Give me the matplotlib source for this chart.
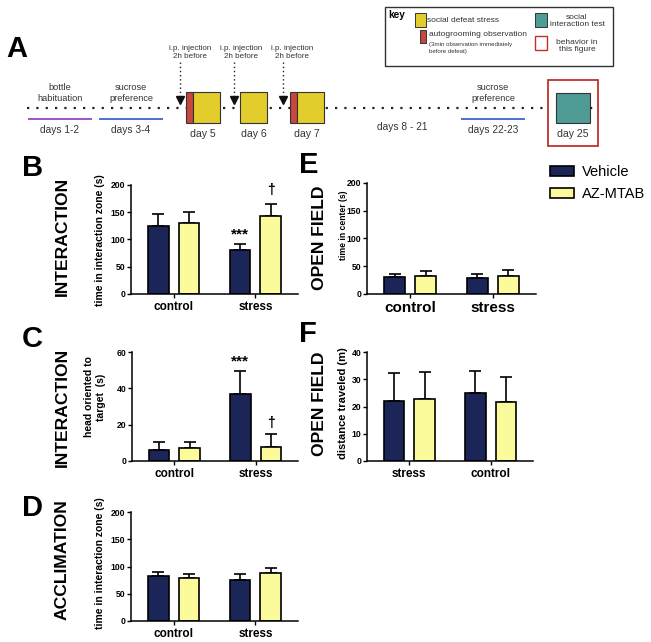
import numpy as np
import matplotlib
matplotlib.use("Agg")
import matplotlib.pyplot as plt
from matplotlib.patches import Rectangle, Patch

plt.rcParams['font.family'] = ['Liberation Sans', 'DejaVu Sans']

W, H = 651, 642
NAVY = "#1b2557"
PALE = "#fbfb9c"
DEFEAT = "#e3cd2c"
GROOM = "#c9463c"
TEAL = "#4f9b96"
RED = "#c0312b"
TXT = "#333333"

# ---- bar data ----
groups_B = ["control", "stress"]
veh_B, veh_B_err = [125, 81], [22, 11]
az_B, az_B_err = [131, 144], [19, 21]

groups_C = ["control", "stress"]
veh_C, veh_C_err = [6, 37], [4.2, 12.5]
az_C, az_C_err = [7, 7.7], [3.3, 7]

groups_D = ["control", "stress"]
veh_D, veh_D_err = [82, 75], [8, 12]
az_D, az_D_err = [79, 88], [8, 10]

groups_E = ["control", "stress"]
veh_E, veh_E_err = [30, 28], [5.5, 7.5]
az_E, az_E_err = [33, 33], [8.5, 10]

groups_F = ["stress", "control"]
veh_F, veh_F_err = [22.1, 24.8], [10.2, 8.1]
az_F, az_F_err = [22.7, 21.6], [10, 9.2]

# ---- timeline content ----
phase_text = ["bottle\nhabituation", "sucrose\npreference", "sucrose\npreference"]
phase_days = ["days 1-2", "days 3-4", "days 22-23"]
phase_color = ["#9b55c4", "#4d6fd8", "#4d6fd8"]
defeat_days = ["day 5", "day 6", "day 7"]
has_groom = [True, False, True]

fig = plt.figure(figsize=(W / 100, H / 100), dpi=100)


def px_axes(left, top, right, bottom):
    return fig.add_axes([left / W, 1 - bottom / H, (right - left) / W, (bottom - top) / H])


def ftext(x, y, s, **kw):
    fig.text(x / W, 1 - y / H, s, **kw)


# ================= panel A (schematic) =================
ax = px_axes(0, 0, W, 150)
ax.set_xlim(0, W)
ax.set_ylim(150, 0)
ax.axis("off")

ax.plot([27, 594], [108, 108], color="#222222", lw=1.6, ls=(0, (1, 3.2)), zorder=1)

phase_x = [60, 131, 493]
for cx, t, d, c in zip(phase_x, phase_text, phase_days, phase_color):
    ax.text(cx, 93, t, ha="center", va="center", fontsize=6.6, color=TXT, linespacing=1.25)
    ax.plot([cx - 31, cx + 31], [119, 119], color=c, lw=1.4)
    ax.text(cx, 130, d, ha="center", va="center", fontsize=7.3, color=TXT)

box_left = [186, 240, 290]
for bl, d, g in zip(box_left, defeat_days, has_groom):
    if g:
        ax.add_patch(Rectangle((bl, 92), 6.5, 31, fc=GROOM, ec="#333333", lw=0.8, zorder=3))
        ax.add_patch(Rectangle((bl + 6.5, 92), 27, 31, fc=DEFEAT, ec="#333333", lw=0.8, zorder=3))
        cx = bl + 17
    else:
        ax.add_patch(Rectangle((bl, 92), 27, 31, fc=DEFEAT, ec="#333333", lw=0.8, zorder=3))
        cx = bl + 13.5
    ax.text(cx, 134, d, ha="center", va="center", fontsize=7.6, color=TXT)

arrow_x = [180, 234, 282.5]
label_x = [190, 241, 292]
for axx, lx in zip(arrow_x, label_x):
    ax.plot([axx, axx], [62, 99], color="#222222", lw=1.0, ls=(0, (1, 2)))
    ax.plot([axx], [100], marker="v", ms=5.5, color="#111111", zorder=4)
    ax.text(lx, 52.5, "i.p. injection\n2h before", ha="center", va="center",
            fontsize=5.8, color=TXT, linespacing=1.2)

ax.text(402, 127, "days 8 - 21", ha="center", va="center", fontsize=7.3, color=TXT)

ax.add_patch(Rectangle((548, 80), 50, 66, fc="white", ec=RED, lw=1.3, zorder=2))
ax.add_patch(Rectangle((556, 93), 34, 30, fc=TEAL, ec="#333333", lw=0.8, zorder=3))
ax.plot([590, 594], [108, 108], color="#222222", lw=1.6, ls=(0, (1, 3.2)), zorder=4)
ax.text(573, 134, "day 25", ha="center", va="center", fontsize=7.6, color=TXT, zorder=4)

# key
ax.add_patch(Rectangle((385, 7), 228, 59, fc="white", ec="#333333", lw=1.0, zorder=2))
ax.text(388, 15, "key", ha="left", va="center", fontsize=7.2, fontweight="bold", zorder=3)
ax.add_patch(Rectangle((415, 13), 11, 14, fc=DEFEAT, ec="#333333", lw=0.7, zorder=3))
ax.text(427, 21, "social defeat stress", ha="left", va="center", fontsize=6, color=TXT, zorder=3)
ax.add_patch(Rectangle((420, 30), 6, 13, fc=GROOM, ec="#333333", lw=0.7, zorder=3))
ax.text(429, 35, "autogrooming observation", ha="left", va="center", fontsize=6, color=TXT, zorder=3)
ax.text(429, 48, "(3min observation immediately\nbefore defeat)", ha="left", va="center",
        fontsize=4.4, color=TXT, linespacing=1.3, zorder=3)
ax.add_patch(Rectangle((535, 13), 12, 14, fc=TEAL, ec="#333333", lw=0.7, zorder=3))
ax.text(577, 21, "social\ninteraction test", ha="center", va="center", fontsize=6,
        color=TXT, linespacing=1.15, zorder=3)
ax.add_patch(Rectangle((535, 36), 12, 14, fc="white", ec=RED, lw=1.0, zorder=3))
ax.text(577, 46, "behavior in\nthis figure", ha="center", va="center", fontsize=6,
        color=TXT, linespacing=1.15, zorder=3)


# ================= bar panels =================
def bar_panel(box, groups, veh, veh_err, az, az_err, ymax, ystep, cat_size):
    a = px_axes(*box)
    x = np.arange(len(groups))
    w, off = 0.255, 0.188
    for xs, vals, errs, col in [(x - off, veh, veh_err, NAVY), (x + off, az, az_err, PALE)]:
        a.bar(xs, vals, w, color=col, edgecolor="black", lw=1.2, zorder=2)
        a.errorbar(xs, vals, yerr=[np.zeros(len(vals)), errs], fmt="none", ecolor="black",
                   elinewidth=1.2, capsize=4, capthick=1.2, zorder=1)
    a.set_xlim(-0.52, 1.52)
    a.set_ylim(0, ymax)
    a.set_yticks(np.arange(0, ymax + 1, ystep))
    a.set_xticks(x)
    a.set_xticklabels(groups, fontsize=cat_size, fontweight="bold")
    for lab in a.get_yticklabels():
        lab.set_fontweight("bold")
    a.tick_params(axis="y", labelsize=6.2, length=3, width=1, pad=1)
    a.tick_params(axis="x", length=3, width=1, pad=2)
    for s in ["top", "right"]:
        a.spines[s].set_visible(False)
    for s in ["left", "bottom"]:
        a.spines[s].set_linewidth(1.1)
    a.patch.set_alpha(0)
    return a


axB = bar_panel((131, 185, 298, 294), groups_B, veh_B, veh_B_err, az_B, az_B_err, 200, 50, 8.5)
axB.text(1 - 0.188, 110, "***", ha="center", va="center", fontsize=11, fontweight="bold")
axB.text(1 + 0.188, 191, "\u2020", ha="center", va="center", fontsize=10, fontweight="bold")

axC = bar_panel((132, 352, 298, 461), groups_C, veh_C, veh_C_err, az_C, az_C_err, 60, 20, 8.5)
axC.text(1 - 0.188, 55, "***", ha="center", va="center", fontsize=11, fontweight="bold")
axC.text(1 + 0.188, 21, "\u2020", ha="center", va="center", fontsize=10, fontweight="bold")

axD = bar_panel((131, 512, 298, 621), groups_D, veh_D, veh_D_err, az_D, az_D_err, 200, 50, 8.5)
axE = bar_panel((367, 183, 536, 294), groups_E, veh_E, veh_E_err, az_E, az_E_err, 200, 50, 11)
axF = bar_panel((367, 352, 533, 461), groups_F, veh_F, veh_F_err, az_F, az_F_err, 40, 10, 8.5)

# y labels
ftext(100, 240, "time in interaction zone (s)", rotation=90, ha="center", va="center",
      fontsize=7.5, fontweight="bold")
ftext(95, 397, "head oriented to\ntarget  (s)", rotation=90, ha="center", va="center",
      fontsize=7.5, fontweight="bold", linespacing=1.35)
ftext(100, 563, "time in interaction zone (s)", rotation=90, ha="center", va="center",
      fontsize=7.5, fontweight="bold")
ftext(343, 225, "time in center (s)", rotation=90, ha="center", va="center",
      fontsize=6.2, fontweight="bold")
ftext(343, 403, "distance traveled (m)", rotation=90, ha="center", va="center",
      fontsize=8, fontweight="bold")

# section labels
for s, x, y in [("INTERACTION", 62, 236), ("OPEN FIELD", 320, 238), ("INTERACTION", 62, 407),
                ("OPEN FIELD", 320, 404), ("ACCLIMATION", 62, 560)]:
    ftext(x, y, s, rotation=90, ha="center", va="center", fontsize=12.6, fontweight="bold")

# panel letters
for s, x, y in [("A", 6, 57), ("B", 22, 176), ("C", 22, 347), ("D", 22, 516),
                ("E", 299, 173), ("F", 299, 342)]:
    ftext(x, y, s, ha="left", va="baseline", fontsize=21, fontweight="bold")

# legend
handles = [Patch(fc=NAVY, ec="black", lw=1.2, label="Vehicle"),
           Patch(fc=PALE, ec="black", lw=1.2, label="AZ-MTAB")]
fig.legend(handles=handles, loc="upper left", bbox_to_anchor=(550 / W, 1 - 165 / H),
           frameon=False, fontsize=10.5, handlelength=1.65, handleheight=0.75,
           handletextpad=0.55, labelspacing=0.55, borderaxespad=0, borderpad=0)

fig.savefig("out.png", dpi=100)
